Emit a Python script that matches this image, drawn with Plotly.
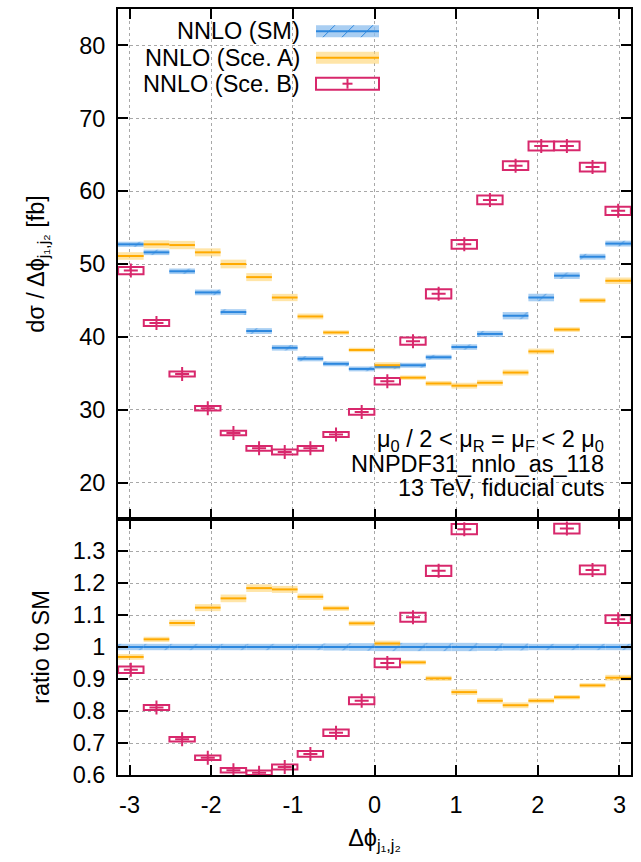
import math
import plotly.graph_objects as go
from plotly.subplots import make_subplots

# ---------------- data ----------------
n_bins = 20
bin_lo = -math.pi
bin_hi = math.pi

sm_xsec = [52.7, 51.6, 49.0, 46.1, 43.4, 40.8, 38.5, 37.0, 36.3, 35.6,
           35.9, 36.1, 37.2, 38.6, 40.4, 42.9, 45.4, 48.4, 51.0, 52.8]
sm_err = [0.36, 0.38, 0.38, 0.39, 0.40, 0.40, 0.39, 0.36, 0.34, 0.34,
          0.34, 0.34, 0.34, 0.38, 0.42, 0.50, 0.52, 0.45, 0.40, 0.40]

a_xsec = [51.1, 52.7, 52.6, 51.6, 50.0, 48.2, 45.4, 42.8, 40.6, 38.2,
          36.1, 34.4, 33.6, 33.3, 33.7, 35.1, 38.0, 41.0, 45.0, 47.7]
a_err = [0.52, 0.55, 0.57, 0.55, 0.60, 0.55, 0.50, 0.40, 0.30, 0.30,
         0.42, 0.30, 0.35, 0.40, 0.40, 0.40, 0.39, 0.32, 0.35, 0.45]

b_xsec = [49.1, 41.9, 34.9, 30.2, 26.8, 24.7, 24.2, 24.7, 26.6, 29.7,
          33.9, 39.4, 45.9, 52.7, 58.8, 63.5, 66.2, 66.2, 63.3, 57.3]
b_err = [0.50, 0.40, 0.35, 0.30, 0.30, 0.33, 0.33, 0.33, 0.35, 0.40,
         0.45, 0.50, 0.62, 0.60, 0.60, 0.60, 0.62, 0.60, 0.60, 0.57]

sm_ratio = [1.0] * n_bins
sm_ratio_err = [0.010, 0.010, 0.010, 0.010, 0.010, 0.010, 0.010, 0.010, 0.011, 0.012,
                0.013, 0.013, 0.013, 0.013, 0.012, 0.011, 0.010, 0.010, 0.010, 0.010]

a_ratio = [0.969, 1.024, 1.075, 1.123, 1.152, 1.184, 1.180, 1.157, 1.121, 1.074,
           1.011, 0.952, 0.902, 0.859, 0.832, 0.818, 0.832, 0.843, 0.880, 0.904]
a_ratio_err = [0.009, 0.008, 0.010, 0.011, 0.012, 0.012, 0.011, 0.010, 0.008, 0.008,
               0.009, 0.007, 0.008, 0.009, 0.009, 0.009, 0.008, 0.007, 0.007, 0.009]

b_ratio = [0.929, 0.811, 0.712, 0.654, 0.615, 0.607, 0.625, 0.666, 0.732, 0.832,
           0.950, 1.093, 1.238, 1.368, 1.455, 1.480, 1.458, 1.370, 1.241, 1.087]
b_ratio_err = [0.010, 0.008, 0.007, 0.007, 0.007, 0.007, 0.008, 0.009, 0.010, 0.011,
               0.013, 0.014, 0.016, 0.016, 0.016, 0.016, 0.016, 0.015, 0.014, 0.012]

x_ticks = [-3, -2, -1, 0, 1, 2, 3]
x_tick_text = ["-3", "-2", "-1", "0", "1", "2", "3"]
y_top_ticks = [20, 30, 40, 50, 60, 70, 80]
y_bot_ticks = [0.6, 0.7, 0.8, 0.9, 1.0, 1.1, 1.2, 1.3]
y_bot_text = ["0.6", "0.7", "0.8", "0.9", "1", "1.1", "1.2", "1.3"]

series_names = ["NNLO (SM)", "NNLO (Sce. A)", "NNLO (Sce. B)"]
info_lines = ["μ<sub>0</sub> / 2 &lt; μ<sub>R</sub> = μ<sub>F</sub> &lt; 2 μ<sub>0</sub>",
              "NNPDF31_nnlo_as_118",
              "13 TeV, fiducial cuts"]

# ---------------- style ----------------
FONT = "Liberation Sans, Arial, sans-serif"
FS = 23.5
BLUE_LINE = "#2c87de"
BLUE_FILL = "rgba(140,190,238,0.75)"
ORANGE_LINE = "#ffaa00"
ORANGE_FILL = "rgba(255,212,110,0.6)"
RED = "#d8286c"

width = (bin_hi - bin_lo) / n_bins
centers = [bin_lo + width * (i + 0.5) for i in range(n_bins)]


def segs(vals):
    xs, ys = [], []
    for c, v in zip(centers, vals):
        xs += [c - width / 2, c + width / 2, None]
        ys += [v, v, None]
    return xs, ys


fig = make_subplots(rows=2, cols=1, shared_xaxes=True, vertical_spacing=0,
                    row_heights=[0.6658, 0.3342])


def add_panel(row, sm, sme, a, ae, b, be):
    fig.add_trace(go.Bar(x=centers, y=[2 * e for e in sme], base=[v - e for v, e in zip(sm, sme)],
                         width=width, showlegend=False, hoverinfo="skip",
                         marker=dict(color=BLUE_FILL, line_width=0,
                                     pattern=dict(shape="/", fgcolor=BLUE_LINE, bgcolor=BLUE_FILL,
                                                  size=18, solidity=0.07))),
                  row=row, col=1)
    xs, ys = segs(sm)
    fig.add_trace(go.Scatter(x=xs, y=ys, mode="lines", line=dict(color=BLUE_LINE, width=2),
                             showlegend=False, name=series_names[0]), row=row, col=1)
    fig.add_trace(go.Bar(x=centers, y=[2 * e for e in ae], base=[v - e for v, e in zip(a, ae)],
                         width=width, showlegend=False, hoverinfo="skip",
                         marker=dict(color=ORANGE_FILL, line_width=0)),
                  row=row, col=1)
    xs, ys = segs(a)
    fig.add_trace(go.Scatter(x=xs, y=ys, mode="lines", line=dict(color=ORANGE_LINE, width=2),
                             showlegend=False, name=series_names[1]), row=row, col=1)
    fig.add_trace(go.Bar(x=centers, y=[2 * e for e in be], base=[v - e for v, e in zip(b, be)],
                         width=width * 0.99, showlegend=False, hoverinfo="skip",
                         marker=dict(color="rgba(255,255,255,0)",
                                     line=dict(color=RED, width=2))),
                  row=row, col=1)
    fig.add_trace(go.Scatter(x=centers, y=b, mode="markers", showlegend=False, name=series_names[2],
                             marker=dict(symbol="cross-thin", size=10,
                                         line=dict(color=RED, width=2), color=RED)),
                  row=row, col=1)


add_panel(1, sm_xsec, sm_err, a_xsec, a_err, b_xsec, b_err)
add_panel(2, sm_ratio, sm_ratio_err, a_ratio, a_ratio_err, b_ratio, b_ratio_err)

axis_common = dict(showline=True, linecolor="black", linewidth=2, mirror="ticks",
                   ticks="inside", ticklen=10, tickwidth=1.5, tickcolor="black",
                   showgrid=True, gridcolor="#a8a8a8", griddash="dot", gridwidth=1,
                   zeroline=False, automargin=False,
                   tickfont=dict(family=FONT, size=FS, color="black"))

fig.update_xaxes(range=[bin_lo, bin_hi], tickvals=x_ticks, ticktext=x_tick_text, **axis_common)
fig.update_xaxes(showticklabels=False, row=1, col=1)
fig.update_xaxes(ticklabelstandoff=8, row=2, col=1,
                 title=dict(text="Δϕ<sub>j₁,j₂</sub>", font=dict(family=FONT, size=FS), standoff=12))
fig.update_yaxes(range=[15, 85], tickvals=y_top_ticks, ticklabelstandoff=6, row=1, col=1,
                 title=dict(text="dσ / Δϕ<sub>j₁,j₂</sub> [fb]", font=dict(family=FONT, size=FS),
                            standoff=28), **axis_common)
fig.update_yaxes(range=[0.6, 1.4], tickvals=y_bot_ticks, ticktext=y_bot_text, ticklabelstandoff=6,
                 row=2, col=1,
                 title=dict(text="ratio to SM", font=dict(family=FONT, size=FS), standoff=16),
                 **axis_common)

# ---------------- legend (gnuplot style: text left, sample right) ----------------
L, T, PW, PH = 118, 9, 513, 766


def px(xp):
    return (xp - L) / PW


def py(yp):
    return (T + PH - yp) / PH


rows_y = [31.2, 57.8, 83.7]
sx0, sx1, sh = 316, 379, 6
shapes = []
annotations = []
for name, yc in zip(series_names, rows_y):
    annotations.append(dict(x=px(302), y=py(yc), xref="paper", yref="paper", text=name,
                            xanchor="right", yanchor="middle", showarrow=False,
                            font=dict(family=FONT, size=FS, color="black")))
shapes.append(dict(type="rect", xref="paper", yref="paper", x0=px(sx0), x1=px(sx1),
                   y0=py(rows_y[0] + sh), y1=py(rows_y[0] - sh), fillcolor=BLUE_FILL, line_width=0))
for xs in range(sx0 - 12, sx1, 19):
    xa, ya, xb, yb = xs, rows_y[0] + sh, xs + 12, rows_y[0] - sh
    if xa < sx0:
        ya = ya - (sx0 - xa); xa = sx0
    if xb > sx1:
        yb = yb + (xb - sx1); xb = sx1
    shapes.append(dict(type="line", xref="paper", yref="paper", x0=px(xa), y0=py(ya),
                       x1=px(xb), y1=py(yb), line=dict(color=BLUE_LINE, width=1)))
shapes.append(dict(type="line", xref="paper", yref="paper", x0=px(sx0), x1=px(sx1),
                   y0=py(rows_y[0]), y1=py(rows_y[0]), line=dict(color=BLUE_LINE, width=2)))
shapes.append(dict(type="rect", xref="paper", yref="paper", x0=px(sx0), x1=px(sx1),
                   y0=py(rows_y[1] + sh), y1=py(rows_y[1] - sh), fillcolor=ORANGE_FILL, line_width=0))
shapes.append(dict(type="line", xref="paper", yref="paper", x0=px(sx0), x1=px(sx1),
                   y0=py(rows_y[1]), y1=py(rows_y[1]), line=dict(color=ORANGE_LINE, width=2)))
shapes.append(dict(type="rect", xref="paper", yref="paper", x0=px(sx0), x1=px(sx1),
                   y0=py(rows_y[2] + sh), y1=py(rows_y[2] - sh), fillcolor="rgba(0,0,0,0)",
                   line=dict(color=RED, width=2)))
cx = (sx0 + sx1) / 2
shapes.append(dict(type="line", xref="paper", yref="paper", x0=px(cx - 5), x1=px(cx + 5),
                   y0=py(rows_y[2]), y1=py(rows_y[2]), line=dict(color=RED, width=2)))
shapes.append(dict(type="line", xref="paper", yref="paper", x0=px(cx), x1=px(cx),
                   y0=py(rows_y[2] - 5), y1=py(rows_y[2] + 5), line=dict(color=RED, width=2)))

for txt, yc in zip(info_lines, [440, 464, 488]):
    annotations.append(dict(x=px(606), y=py(yc), xref="paper", yref="paper", text=txt,
                            xanchor="right", yanchor="middle", showarrow=False,
                            font=dict(family=FONT, size=FS, color="black")))

fig.update_layout(width=641, height=862, margin=dict(l=L, r=641 - L - PW, t=T, b=862 - T - PH),
                  plot_bgcolor="white", paper_bgcolor="white", barmode="overlay",
                  showlegend=False, shapes=shapes, annotations=annotations,
                  font=dict(family=FONT, size=FS, color="black"))

fig.write_html("out.html", config={"displayModeBar": False},
               post_script="document.body.style.margin='0';")
